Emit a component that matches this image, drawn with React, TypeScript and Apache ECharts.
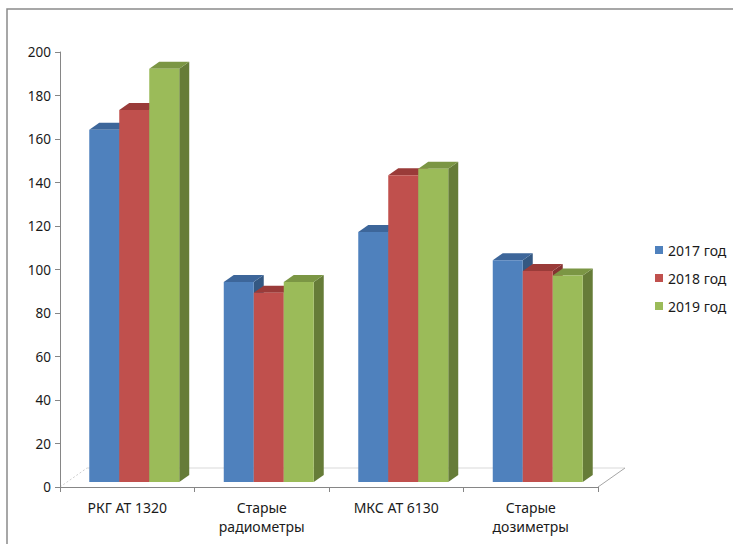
import React, { useEffect, useRef } from "react";
import * as echarts from "echarts";

const categories = ["РКГ АТ 1320", "Старые\nрадиометры", "МКС АТ 6130", "Старые\nдозиметры"];
const seriesNames = ["2017 год", "2018 год", "2019 год"];
const values2017 = [162, 92, 115, 102];
const values2018 = [171, 87, 141, 97];
const values2019 = [190, 92, 144, 95];
const yTicks = { min: 0, max: 200, interval: 20 };

const frontColors = ["#4f81bd", "#c0504d", "#9bbb59"];
const topColors = ["#3d669a", "#9a3b39", "#7b9644"];
const sideColors = ["#345882", "#843331", "#667c38"];

const FONT = "Noto Sans";

// oblique 3-D look: bars sit a little behind the front edge of the floor
const FRONT_DX = 7;
const FRONT_DY = -5;
const DEPTH_DX = 10;
const DEPTH_DY = -7;

function makeRenderer(s: number) {
  return (params: any, api: any) => {
    const idx = api.value(0);
    const val = api.value(1);
    const base = api.coord([idx, 0]);
    const top = api.coord([idx, val]);
    const band = api.size([1, 0])[0];
    const barW = band * 0.223;
    const x0 = base[0] - 1.5 * barW + s * barW + FRONT_DX;
    const yB = base[1] + FRONT_DY;
    const yT = top[1] + FRONT_DY;
    const x1 = x0 + barW;
    return {
      type: "group",
      children: [
        {
          type: "polygon",
          shape: {
            points: [
              [x1, yT],
              [x1 + DEPTH_DX, yT + DEPTH_DY],
              [x1 + DEPTH_DX, yB + DEPTH_DY],
              [x1, yB],
            ],
          },
          style: { fill: sideColors[s] },
        },
        {
          type: "polygon",
          shape: {
            points: [
              [x0, yT],
              [x1, yT],
              [x1 + DEPTH_DX, yT + DEPTH_DY],
              [x0 + DEPTH_DX, yT + DEPTH_DY],
            ],
          },
          style: { fill: topColors[s] },
        },
        {
          type: "rect",
          shape: { x: x0, y: yT, width: barW, height: yB - yT },
          style: { fill: frontColors[s] },
        },
      ],
    };
  };
}

export default function App() {
  const ref = useRef<HTMLDivElement>(null);

  useEffect(() => {
    if (!ref.current) return;
    const chart = echarts.init(ref.current, null, { renderer: "svg" });
    const all = [values2017, values2018, values2019];
    chart.setOption({
      animation: false,
      backgroundColor: "#ffffff",
      textStyle: { fontFamily: FONT },
      grid: { left: 60, top: 52, right: 135, bottom: 57, containLabel: false },
      legend: {
        orient: "vertical",
        left: 650,
        top: 238,
        itemWidth: 8,
        itemHeight: 8,
        itemGap: 14,
        icon: "rect",
        textStyle: { fontFamily: FONT, fontSize: 14, color: "#1a1a1a" },
        data: seriesNames,
      },
      graphic: [
        {
          type: "rect",
          shape: { x: 7, y: 9, width: 740, height: 560 },
          style: { fill: "none", stroke: "#8a8a8a", lineWidth: 1.5 },
          silent: true,
        },
        {
          type: "line",
          shape: { x1: 87, y1: 468, x2: 625, y2: 468 },
          style: { stroke: "#d9d9d9", lineWidth: 1 },
          silent: true,
        },
        {
          type: "line",
          shape: { x1: 60, y1: 487, x2: 87, y2: 468 },
          style: { stroke: "#d0d0d0", lineWidth: 1, lineDash: [2, 2] },
          silent: true,
        },
        {
          type: "line",
          shape: { x1: 598, y1: 487, x2: 625, y2: 468 },
          style: { stroke: "#a6a6a6", lineWidth: 1 },
          silent: true,
        },
      ],
      xAxis: {
        type: "category",
        data: categories,
        boundaryGap: true,
        axisLine: { lineStyle: { color: "#868686", width: 1 } },
        axisTick: { show: true, length: 5, lineStyle: { color: "#868686" } },
        axisLabel: {
          interval: 0,
          fontFamily: FONT,
          fontSize: 14,
          lineHeight: 19,
          color: "#1a1a1a",
          margin: 11,
        },
      },
      yAxis: {
        type: "value",
        min: yTicks.min,
        max: yTicks.max,
        interval: yTicks.interval,
        axisLine: { show: true, lineStyle: { color: "#868686", width: 1 } },
        axisTick: { show: true, length: 5, lineStyle: { color: "#868686" } },
        splitLine: { show: false },
        axisLabel: { fontFamily: FONT, fontSize: 13.5, color: "#1a1a1a", margin: 9 },
      },
      series: all.map((vals, s) => ({
        name: seriesNames[s],
        type: "custom",
        renderItem: makeRenderer(s),
        itemStyle: { color: frontColors[s] },
        encode: { x: 0, y: 1 },
        data: vals.map((v, i) => [i, v]),
        z: 2 + s,
      })),
    });
    return () => chart.dispose();
  }, []);

  return (
    <div
      ref={ref}
      style={{ position: "fixed", left: 0, top: 0, width: 733, height: 544 }}
    />
  );
}
